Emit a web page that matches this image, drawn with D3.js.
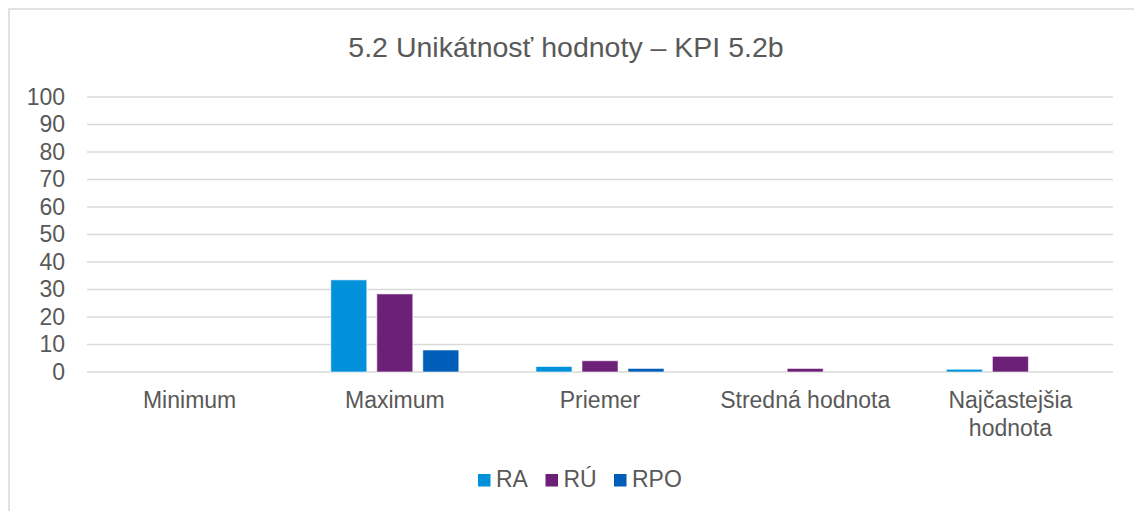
<!DOCTYPE html>
<html>
<head>
<meta charset="utf-8">
<script src="https://cdn.jsdelivr.net/npm/d3@7"></script>
<style>
  body { margin: 0; background: #fff; }
  text { font-family: "Liberation Sans", Arial, sans-serif; fill: #595959; }
</style>
</head>
<body>
<div id="chart"></div>
<script>
// data
const categories = ["Minimum", "Maximum", "Priemer", "Stredná hodnota", "Najčastejšia hodnota"];
const seriesNames = ["RA", "RÚ", "RPO"];
const raValues  = [0, 33.5, 2.0, 0, 1.0];
const ruValues  = [0, 28.4, 4.1, 1.3, 5.7];
const rpoValues = [0, 8.0, 1.3, 0, 0];
const yTicks = [0, 10, 20, 30, 40, 50, 60, 70, 80, 90, 100];
const colors = ["#0091DA", "#6D2077", "#005EB8"];

const seriesValues = [raValues, ruValues, rpoValues];
const W = 1134, H = 511;
const margin = {top: 97, right: 21, bottom: 139, left: 87},
      width = W - margin.left - margin.right,
      height = H - margin.top - margin.bottom;

const root = d3.select("#chart").append("svg")
    .attr("width", W)
    .attr("height", H);

// chart frame
root.append("rect")
    .attr("x", 9).attr("y", 9)
    .attr("width", W).attr("height", H)
    .attr("fill", "none")
    .attr("stroke", "#d9d9d9")
    .attr("stroke-width", 1.5);

// title
root.append("text")
    .attr("x", 566)
    .attr("y", 57)
    .attr("text-anchor", "middle")
    .style("font-size", "28.5px")
    .text("5.2 Unikátnosť hodnoty – KPI 5.2b");

const svg = root.append("g")
    .attr("transform", `translate(${margin.left}, ${margin.top})`);

const x0 = d3.scaleBand()
    .domain(categories)
    .range([0, width])
    .paddingInner(0.376)
    .paddingOuter(0.188);

const x1 = d3.scaleBand()
    .domain(seriesNames)
    .range([0, x0.bandwidth()])
    .paddingInner(0.217);

const y = d3.scaleLinear()
    .domain([0, 100])
    .range([height, 0]);

// gridlines
svg.append("g")
    .selectAll("line")
    .data(yTicks)
    .join("line")
    .attr("x1", 0)
    .attr("x2", width)
    .attr("y1", d => y(d))
    .attr("y2", d => y(d))
    .attr("stroke", "#d9d9d9")
    .attr("stroke-width", 1.5);

// y axis labels
const yAxis = svg.append("g")
    .attr("transform", "translate(-22, 0)")
    .call(d3.axisLeft(y).tickValues(yTicks).tickSize(0).tickPadding(0));
yAxis.select(".domain").remove();
yAxis.selectAll("text")
    .style("font-size", "23px")
    .attr("fill", "#595959");

// bars
const groups = svg.append("g")
    .selectAll("g")
    .data(categories)
    .join("g")
    .attr("transform", d => `translate(${x0(d)}, 0)`);

groups.selectAll("rect")
    .data((d, i) => seriesNames.map((s, j) => ({s: s, v: seriesValues[j][i], c: colors[j]})))
    .join("rect")
    .attr("x", d => x1(d.s))
    .attr("width", x1.bandwidth())
    .attr("y", d => y(d.v))
    .attr("height", d => height - y(d.v))
    .attr("fill", d => d.c)
    .attr("stroke", d => d.v > 0 ? "#ffffff" : "none")
    .attr("stroke-opacity", 0.6)
    .attr("stroke-width", 1);

// category labels, wrapped to band width
const xAxis = svg.append("g")
    .attr("transform", `translate(0, ${height})`)
    .call(d3.axisBottom(x0).tickSize(0).tickPadding(0));
xAxis.select(".domain").remove();
xAxis.selectAll("text")
    .style("font-size", "23px")
    .attr("fill", "#595959")
    .attr("y", 36)
    .attr("dy", 0)
    .each(function(d) {
        const t = d3.select(this);
        const words = d.split(" ");
        t.text(null);
        let line = [], lineNo = 0;
        let tspan = t.append("tspan").attr("x", 0).attr("y", 36);
        words.forEach(w => {
            line.push(w);
            tspan.text(line.join(" "));
            if (tspan.node().getComputedTextLength() > x0.step() - 12 && line.length > 1) {
                line.pop();
                tspan.text(line.join(" "));
                line = [w];
                lineNo++;
                tspan = t.append("tspan").attr("x", 0).attr("y", 36 + lineNo * 28).text(w);
            }
        });
    });

// legend
const legendX = [478, 545.5, 614];
const legend = root.append("g")
    .selectAll("g")
    .data(seriesNames)
    .join("g")
    .attr("transform", (d, i) => `translate(${legendX[i]}, 474)`);
legend.append("rect")
    .attr("width", 12.5)
    .attr("height", 12.5)
    .attr("fill", (d, i) => colors[i]);
legend.append("text")
    .attr("x", 18)
    .attr("y", 13)
    .style("font-size", "23px")
    .text(d => d);
</script>
</body>
</html>
